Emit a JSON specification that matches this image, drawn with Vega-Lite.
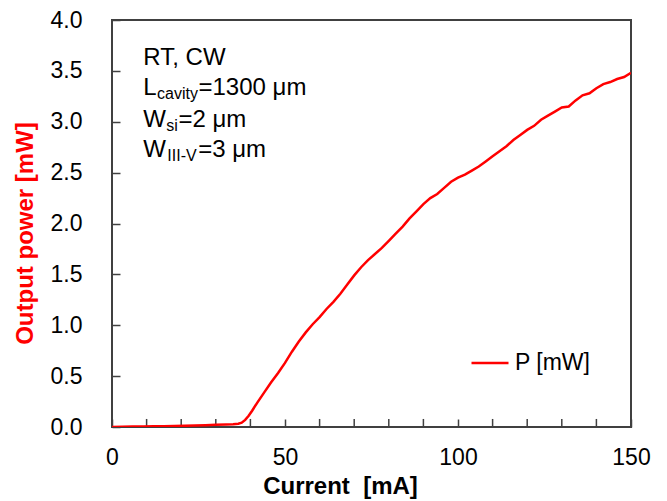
{
  "$schema": "https://vega.github.io/schema/vega-lite/v6.json",
  "width": 519,
  "height": 407,
  "autosize": {"type": "none"},
  "padding": {"left": 112, "top": 20, "right": 36, "bottom": 74},
  "background": "white",
  "config": {
    "font": "Liberation Sans",
    "view": {"stroke": "#404040", "strokeWidth": 2},
    "axis": {"grid": false, "domain": false, "tickColor": "#404040", "tickWidth": 1.5, "labelColor": "black", "labelFont": "Liberation Sans", "labelFontSize": 23, "titleFont": "Liberation Sans", "titleFontSize": 24, "titleFontWeight": "bold"}
  },
  "datasets": {
    "curve": [
      {"I": 0, "P": 0.0}, {"I": 3, "P": 0.002}, {"I": 6, "P": 0.004}, {"I": 9, "P": 0.005}, {"I": 12, "P": 0.007},
      {"I": 15, "P": 0.008}, {"I": 18, "P": 0.01}, {"I": 21, "P": 0.012}, {"I": 24, "P": 0.015}, {"I": 27, "P": 0.018},
      {"I": 30, "P": 0.021}, {"I": 33, "P": 0.025}, {"I": 35, "P": 0.028}, {"I": 36.5, "P": 0.033}, {"I": 37.5, "P": 0.042},
      {"I": 38.5, "P": 0.07}, {"I": 39.5, "P": 0.11}, {"I": 40.5, "P": 0.16}, {"I": 42, "P": 0.24}, {"I": 44, "P": 0.34},
      {"I": 46, "P": 0.44}, {"I": 48, "P": 0.53}, {"I": 50, "P": 0.63}, {"I": 52, "P": 0.74}, {"I": 54, "P": 0.84},
      {"I": 56, "P": 0.93}, {"I": 58, "P": 1.01}, {"I": 60, "P": 1.08}, {"I": 62, "P": 1.16}, {"I": 64, "P": 1.23},
      {"I": 66, "P": 1.31}, {"I": 68, "P": 1.40}, {"I": 70, "P": 1.49}, {"I": 72, "P": 1.57}, {"I": 74, "P": 1.64},
      {"I": 76, "P": 1.70}, {"I": 78, "P": 1.76}, {"I": 80, "P": 1.83}, {"I": 82, "P": 1.90}, {"I": 84, "P": 1.97},
      {"I": 86, "P": 2.05}, {"I": 88, "P": 2.12}, {"I": 90, "P": 2.19}, {"I": 92, "P": 2.25}, {"I": 94, "P": 2.29},
      {"I": 96, "P": 2.35}, {"I": 98, "P": 2.41}, {"I": 100, "P": 2.45}, {"I": 102, "P": 2.48}, {"I": 104, "P": 2.52},
      {"I": 106, "P": 2.56}, {"I": 108, "P": 2.61}, {"I": 110, "P": 2.66}, {"I": 112, "P": 2.71}, {"I": 114, "P": 2.76},
      {"I": 116, "P": 2.82}, {"I": 118, "P": 2.87}, {"I": 120, "P": 2.92}, {"I": 122, "P": 2.96}, {"I": 124, "P": 3.02},
      {"I": 126, "P": 3.06}, {"I": 128, "P": 3.10}, {"I": 130, "P": 3.14}, {"I": 132, "P": 3.15}, {"I": 134, "P": 3.21},
      {"I": 136, "P": 3.26}, {"I": 138, "P": 3.28}, {"I": 140, "P": 3.33}, {"I": 142, "P": 3.37}, {"I": 144, "P": 3.39},
      {"I": 146, "P": 3.42}, {"I": 148, "P": 3.44}, {"I": 150, "P": 3.48}
    ],
    "minorTicks": [
      {"I": 10}, {"I": 20}, {"I": 30}, {"I": 40}, {"I": 60}, {"I": 70}, {"I": 80},
      {"I": 90}, {"I": 110}, {"I": 120}, {"I": 130}, {"I": 140}
    ],
    "mainText": [
      {"I": 9.05, "P": 3.558, "t": "RT, CW"},
      {"I": 9.05, "P": 3.263, "t": "L"},
      {"I": 25.0, "P": 3.263, "t": "=1300 μm"},
      {"I": 9.05, "P": 2.948, "t": "W"},
      {"I": 19.2, "P": 2.948, "t": "=2 μm"},
      {"I": 9.05, "P": 2.654, "t": "W"},
      {"I": 24.9, "P": 2.654, "t": "=3 μm"}
    ],
    "subText": [
      {"I": 13.0, "P": 3.263, "t": "cavity"},
      {"I": 15.7, "P": 2.948, "t": "si"},
      {"I": 16.0, "P": 2.654, "t": "III-V"}
    ]
  },
  "layer": [
    {
      "data": {"name": "minorTicks"},
      "mark": {"type": "rule", "color": "#404040", "strokeWidth": 1.5},
      "encoding": {
        "x": {"field": "I", "type": "quantitative", "scale": {"domain": [0, 150], "nice": false}},
        "y": {"datum": 0, "type": "quantitative"},
        "y2": {"datum": 0.079}
      }
    },
    {
      "data": {"name": "curve"},
      "mark": {"type": "line", "strokeWidth": 2.5, "clip": true},
      "encoding": {
        "x": {
          "field": "I", "type": "quantitative",
          "scale": {"domain": [0, 150], "nice": false},
          "axis": {
            "values": [0, 50, 100, 150],
            "labelOverlap": false,
            "tickSize": -8,
            "labelPadding": 27,
            "labelFlush": false,
            "title": "Current\u00a0 [mA]",
            "titleX": 228, "titleY": 66, "titleBaseline": "alphabetic", "titleAlign": "center"
          }
        },
        "y": {
          "field": "P", "type": "quantitative",
          "scale": {"domain": [0, 4], "nice": false},
          "axis": {
            "values": [0, 0.5, 1, 1.5, 2, 2.5, 3, 3.5, 4],
            "format": ".1f",
            "labelOverlap": false,
            "tickSize": -8,
            "labelPadding": 38,
            "labelFlush": false,
            "title": "Output power [mW]",
            "titleColor": "#ff0000",
            "titleAngle": 270,
            "titleX": -80, "titleY": 213, "titleBaseline": "alphabetic", "titleAlign": "center"
          }
        },
        "color": {
          "datum": "P [mW]", "type": "nominal",
          "scale": {"range": ["#ff0000"]},
          "legend": {
            "orient": "none", "legendX": 358, "legendY": 323, "title": null, "padding": 0,
            "symbolType": "stroke", "symbolSize": 1369, "symbolStrokeWidth": 2.5,
            "labelFontSize": 23, "labelColor": "black", "labelOffset": 5, "labelFont": "Liberation Sans"
          }
        }
      }
    },
    {
      "data": {"name": "mainText"},
      "mark": {"type": "text", "align": "left", "baseline": "alphabetic", "fontSize": 24, "color": "black"},
      "encoding": {
        "x": {"field": "I", "type": "quantitative"},
        "y": {"field": "P", "type": "quantitative"},
        "text": {"field": "t"}
      }
    },
    {
      "data": {"name": "subText"},
      "mark": {"type": "text", "align": "left", "baseline": "alphabetic", "fontSize": 16, "dy": 4, "color": "black"},
      "encoding": {
        "x": {"field": "I", "type": "quantitative"},
        "y": {"field": "P", "type": "quantitative"},
        "text": {"field": "t"}
      }
    }
  ]
}
